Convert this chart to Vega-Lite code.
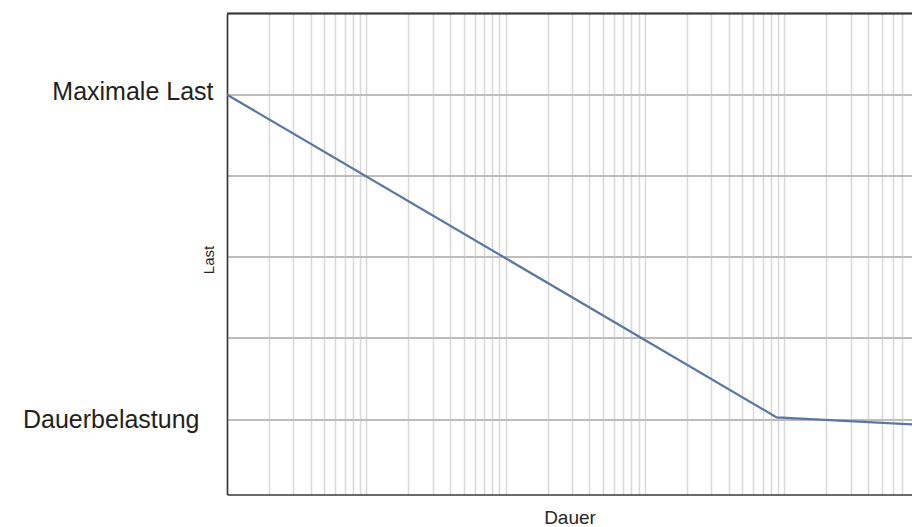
{
  "$schema": "https://vega.github.io/schema/vega-lite/v6.json",
  "autosize": {"type": "none"},
  "padding": {"left": 227, "top": 13.5, "right": 0, "bottom": 32.5},
  "width": 685,
  "height": 481,
  "background": "white",
  "config": {
    "view": {"stroke": null},
    "font": "Liberation Sans"
  },
  "data": {
    "values": [
      {"dauer": 1, "last": 5},
      {"dauer": 8830, "last": 1.02},
      {"dauer": 82700, "last": 0.935}
    ]
  },
  "layer": [
    {
      "mark": {"type": "line", "color": "#5878a2", "strokeWidth": 2.2, "clip": true},
      "encoding": {
        "x": {
          "field": "dauer",
          "type": "quantitative",
          "scale": {"type": "log", "domain": [1, 82700], "nice": false},
          "axis": {
            "title": "Dauer",
            "values": [1,2,3,4,5,6,7,8,9,10,20,30,40,50,60,70,80,90,100,200,300,400,500,600,700,800,900,1000,2000,3000,4000,5000,6000,7000,8000,9000,10000,20000,30000,40000,50000,60000,70000],
            "labels": false,
            "ticks": false,
            "grid": true,
            "gridColor": "#d8d8d8",
            "gridWidth": 1.5,
            "domain": true,
            "domainColor": "#3a3634",
            "domainWidth": 1.6,
            "titleFont": "Liberation Sans",
            "titleFontSize": 19,
            "titleFontWeight": "normal",
            "titleColor": "#2a2626",
            "titleBaseline": "alphabetic",
            "titleY": 29
          }
        },
        "y": {
          "field": "last",
          "type": "quantitative",
          "scale": {"domain": [0.07, 6.0], "nice": false, "zero": false},
          "axis": {
            "title": "Last",
            "values": [1, 2, 3, 4, 5],
            "labelExpr": "datum.value == 5 ? 'Maximale Last' : (datum.value == 1 ? 'Dauerbelastung' : '')",
            "labelFont": "Liberation Sans",
            "labelFontSize": 25,
            "labelColor": "#231f20",
            "labelPadding": {"condition": {"test": "datum.value == 1", "value": 28}, "value": 14},
            "labelOffset": {"condition": {"test": "datum.value == 5", "value": -3.5}, "value": 0},
            "labelBaseline": "middle",
            "ticks": false,
            "grid": true,
            "gridColor": "#bdbdbd",
            "gridWidth": 2,
            "domain": true,
            "domainColor": "#3a3634",
            "domainWidth": 1.6,
            "titleFont": "Liberation Sans",
            "titleFontSize": 15,
            "titleFontWeight": "normal",
            "titleColor": "#2a2626",
            "titleAngle": -90,
            "titleAlign": "center",
            "titleBaseline": "alphabetic",
            "titleX": -14,
            "titleY": 246
          }
        }
      }
    },
    {
      "mark": {"type": "rule", "color": "#3a3634", "strokeWidth": 1.6},
      "encoding": {"y": {"datum": 6.0}}
    }
  ]
}
